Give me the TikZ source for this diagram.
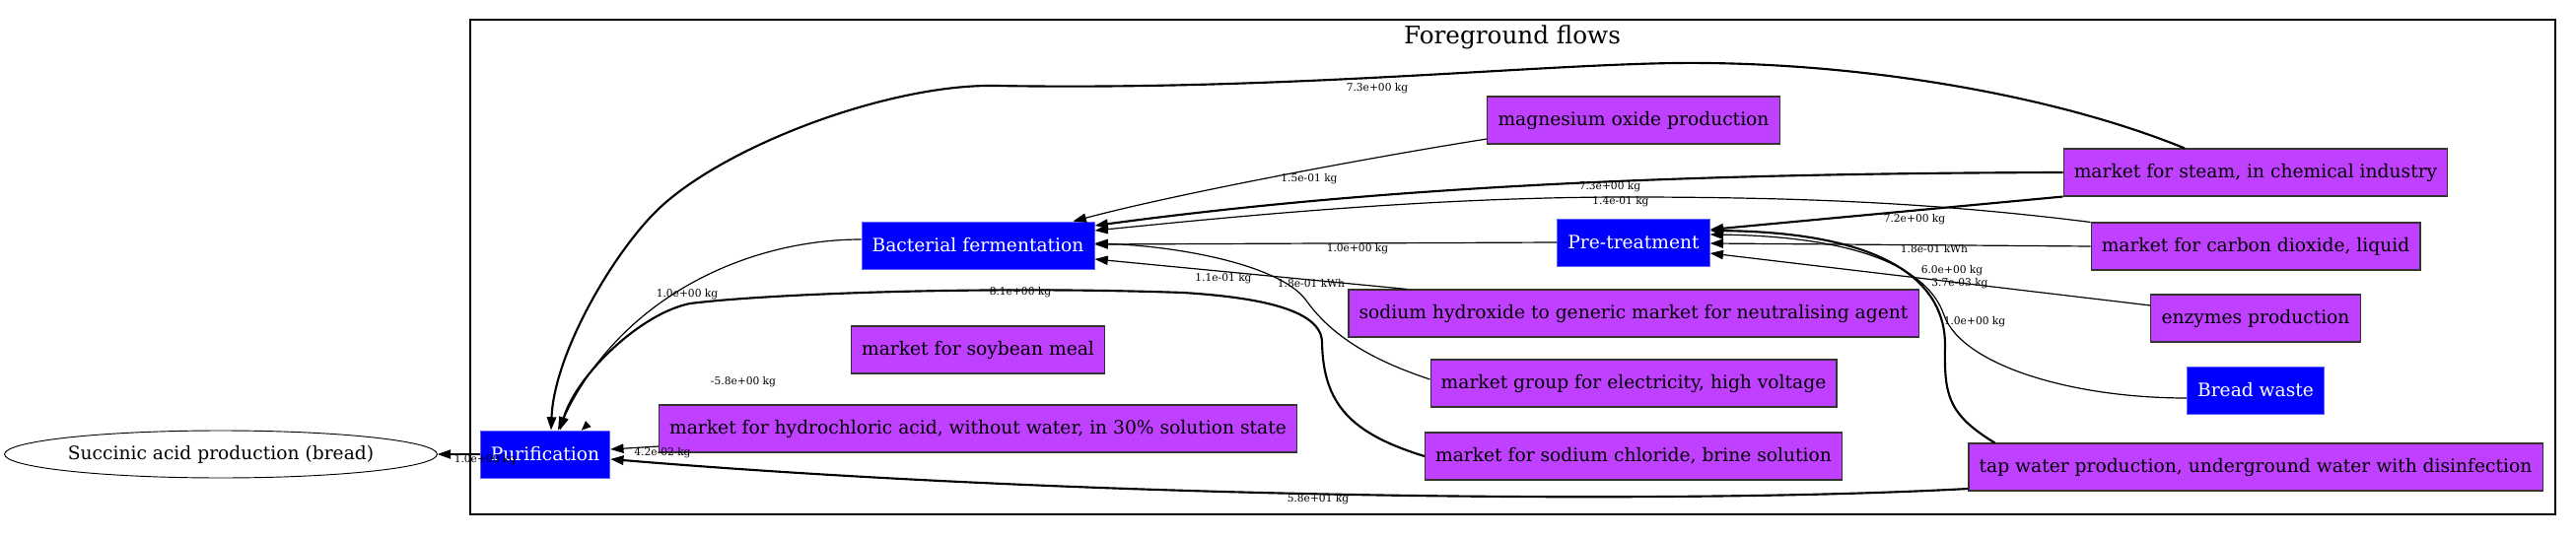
\documentclass[tikz,border=0pt]{standalone}
\usepackage{fontspec}
\setmainfont{DejaVu Serif}
\usetikzlibrary{arrows.meta, shapes.geometric, calc}

\definecolor{procblue}{RGB}{0,0,255}
\definecolor{procline}{RGB}{96,96,255}
\definecolor{marketfill}{RGB}{192,64,255}
\definecolor{marketline}{RGB}{51,51,51}

\tikzset{
	>={Triangle[length=10pt, width=7pt]}, % filled arrow heads
	process/.style={rectangle, fill=procblue, draw=procline, line width=0.6pt, text=white, font=\fontsize{14}{16}\selectfont, minimum height=36pt, inner xsep=8pt, inner ysep=0pt}, % foreground activities
	market/.style={rectangle, fill=marketfill, draw=marketline, line width=0.8pt, font=\fontsize{14}{16}\selectfont, minimum height=36pt, inner xsep=8pt, inner ysep=0pt}, % background activities
	flow/.style={->, line width=0.9pt}, % small flows
	bigflow/.style={->, line width=1.6pt}, % large flows
	amount/.style={font=\fontsize{8}{9}\selectfont, inner sep=0pt}, % text on the flows
}

\begin{document}
\begin{tikzpicture}[x=0.75pt, y=-0.75pt]
		\useasboundingbox (0,0) rectangle (2613,545);
		% Cluster
		\draw[line width=1.5pt] (477,20) rectangle (2592,522);
		\node[font=\fontsize{18.5}{20}\selectfont] (title) at (1534,38) {Foreground flows};
		
		% Define nodes
		\node[ellipse, draw, line width=0.7pt, minimum width=322.5pt, minimum height=36pt, inner sep=0pt, font=\fontsize{14}{16}\selectfont] (succ) at (224,461) {Succinic acid production (bread)};
		\node[process] (pur) at (553,461) {Purification};
		\node[process] (bact) at (992,249) {Bacterial fermentation};
		\node[process] (pre) at (1657,246) {Pre-treatment};
		\node[process] (bread) at (2288,396) {Bread waste};
		\node[market] (soy) at (992,355) {market for soybean meal};
		\node[market] (hcl) at (992,435) {market for hydrochloric acid, without water, in 30\% solution state};
		\node[market] (mgo) at (1657,122) {magnesium oxide production};
		\node[market] (naoh) at (1657,318) {sodium hydroxide to generic market for neutralising agent};
		\node[market] (elec) at (1657,389) {market group for electricity, high voltage};
		\node[market] (nacl) at (1657,463) {market for sodium chloride, brine solution};
		\node[market] (steam) at (2288,175) {market for steam, in chemical industry};
		\node[market] (co2) at (2288,250) {market for carbon dioxide, liquid};
		\node[market] (enz) at (2288,323) {enzymes production};
		\node[market] (tap) at (2288,474) {tap water production, underground water with disinfection};
		
		% Flows into Purification
		\draw[flow] (pur.west) -- (succ.east);
		\draw[flow] ($(bact.west)+(0,-6)$) .. controls (760,243) and (630,300) .. ($(pur.north)+(13,0)$);
		\draw[bigflow] ($(steam.north)+(-72,0)$) .. controls (2080,95) and (1880,62) .. (1700,64)
			.. controls (1550,66) and (1300,92) .. (1010,87)
			.. controls (900,85) and (730,150) .. (665,215)
			.. controls (620,260) and (562,360) .. ($(pur.north)+(6,0)$);
		\draw[bigflow] (nacl.west) .. controls (1370,440) and (1342,410) .. (1341,347)
			.. controls (1340,315) and (1280,302) .. (1200,297)
			.. controls (1000,290) and (780,298) .. (700,308)
			.. controls (650,318) and (585,380) .. ($(pur.north)+(15,0)$);
		\draw[flow] ($(hcl.west)+(0,18)$) -- ($(pur.east)+(0,-5)$);
		\draw[bigflow] ($(tap.west)+(0,22)$) .. controls (1700,512) and (1100,506) .. ($(pur.east)+(0,5)$);
		\coordinate (soytail) at (597,430);
		\coordinate (soytip) at ($(pur.north)+(37,0)$);
		\draw[->, >={Triangle[length=7pt, width=6pt]}, line width=0.2pt] (soytail) -- (soytip);
		
		% Flows into Bacterial fermentation
		\draw[flow] ($(mgo.west)+(0,19)$) .. controls (1400,158) and (1200,195) .. ($(bact.north east)+(-22,0)$);
		\draw[bigflow] (steam.west) .. controls (1700,176) and (1400,190) .. ($(bact.east)+(0,-20)$);
		\draw[flow] (co2.north west) .. controls (1980,208) and (1850,200) .. (1650,200)
			.. controls (1450,200) and (1250,220) .. ($(bact.east)+(0,-15)$);
		\draw[flow] (pre.west) -- ($(bact.east)+(0,-1)$);
		\draw[flow] ($(elec.west)+(0,-4)$) .. controls (1390,365) and (1350,340) .. (1325,305)
			.. controls (1300,270) and (1200,250) .. ($(bact.east)+(0,-2)$);
		\draw[flow] ($(naoh.north west)+(60,0)$) -- ($(bact.east)+(0,14)$);
		
		% Flows into Pre-treatment
		\draw[bigflow] (steam.south west) -- ($(pre.east)+(0,-13)$);
		\draw[flow] (co2.west) -- ($(pre.east)+(0,1)$);
		\draw[flow] ($(enz.west)+(0,-13)$) -- ($(pre.east)+(0,11)$);
		\draw[bigflow] ($(tap.north west)+(27,0)$) .. controls (1975,420) and (1972,400) .. (1973,350)
			.. controls (1973,290) and (1920,236) .. ($(pre.east)+(0,-12)$);
		\draw[flow] ($(bread.west)+(0,8)$) .. controls (2100,404) and (1990,370) .. (1972,320)
			.. controls (1955,270) and (1880,240) .. ($(pre.east)+(0,-8)$);
		
		% Amounts
		\node[amount] (a1) at (492,467) {1.0e+00 kg};
		\node[amount] (a2) at (697,299) {1.0e+00 kg};
		\node[amount] (a3) at (1397,90) {7.3e+00 kg};
		\node[amount] (a4) at (1035,297) {8.1e+00 kg};
		\node[amount] (a5) at (754,388) {-5.8e+00 kg};
		\node[amount] (a6) at (672,460) {4.2e-02 kg};
		\node[amount] (a7) at (1337,507) {5.8e+01 kg};
		\node[amount] (a8) at (1328,182) {1.5e-01 kg};
		\node[amount] (a9) at (1633,190) {7.3e+00 kg};
		\node[amount] (a10) at (1644,205) {1.4e-01 kg};
		\node[amount] (a11) at (1377,253) {1.0e+00 kg};
		\node[amount] (a12) at (1330,288) {1.8e-01 kWh};
		\node[amount] (a13) at (1241,283) {1.1e-01 kg};
		\node[amount] (a14) at (1942,223) {7.2e+00 kg};
		\node[amount] (a15) at (1962,253) {1.8e-01 kWh};
		\node[amount] (a16) at (1988,288) {3.7e-03 kg};
		\node[amount] (a17) at (1980,275) {6.0e+00 kg};
		\node[amount] (a18) at (2003,327) {1.0e+00 kg};
		
	\end{tikzpicture}
\end{document}
